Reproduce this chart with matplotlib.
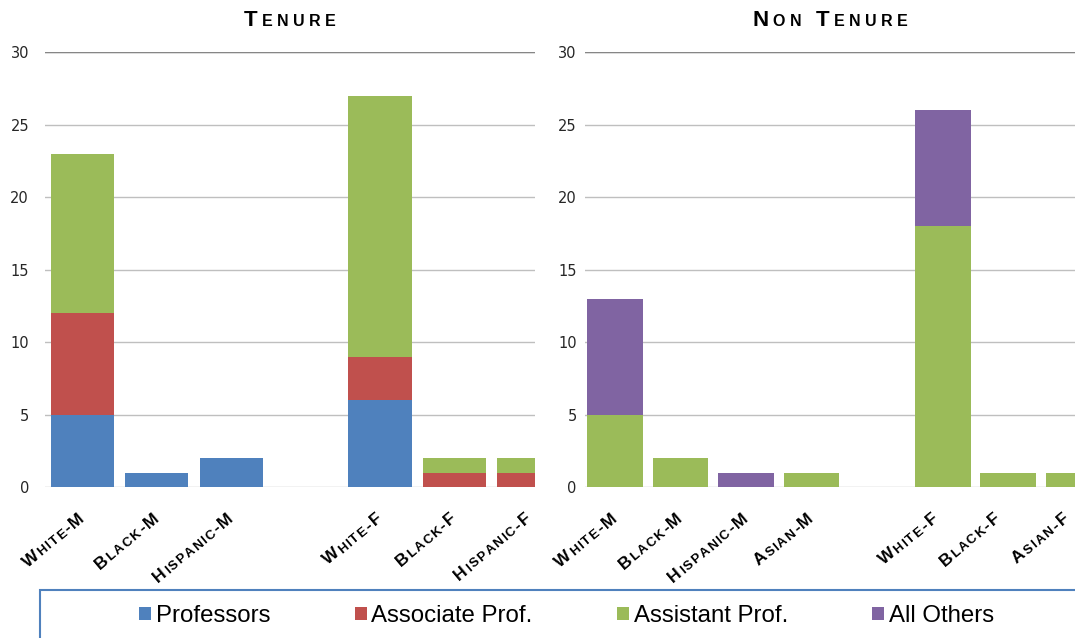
import numpy as np
import matplotlib
matplotlib.use('Agg')
import matplotlib.pyplot as plt
from matplotlib.patches import Patch, Rectangle
from matplotlib.font_manager import FontProperties
from matplotlib.textpath import text_to_path
from matplotlib.transforms import ScaledTranslation

# data
tenure_cats = ['White-M', 'Black-M', 'Hispanic-M', '', 'White-F', 'Black-F', 'Hispanic-F']
tenure_prof = [5, 1, 2, 0, 6, 0, 0]
tenure_assoc = [7, 0, 0, 0, 3, 1, 1]
tenure_asst = [11, 0, 0, 0, 18, 1, 1]
tenure_other = [0, 0, 0, 0, 0, 0, 0]

non_cats = ['White-M', 'Black-M', 'Hispanic-M', 'Asian-M', '', 'White-F', 'Black-F', 'Asian-F']
non_prof = [0, 0, 0, 0, 0, 0, 0, 0]
non_assoc = [0, 0, 0, 0, 0, 0, 0, 0]
non_asst = [5, 2, 0, 1, 0, 18, 1, 1]
non_other = [8, 0, 1, 0, 0, 8, 0, 0]

series_names = ['Professors', 'Associate Prof.', 'Assistant Prof.', 'All Others']
colors = ['#4F81BD', '#C0504D', '#9BBB59', '#8064A2']
yticks = [0, 5, 10, 15, 20, 25, 30]

# small horizontal nudges (points) of the category labels
tenure_nudge = [0, 0, 0, 0, 0, 0, 0]
non_nudge = [0, 0, 0, 0, 0, -5, -7, -5]

FONT = 'Liberation Sans'

fig = plt.figure(figsize=(10.75, 6.38), dpi=100)


def smallcaps(ax, x, y, s, transform, big, small, angle=0, align='center',
              track=0.0, offset=(0, 0)):
    # fake small caps: capitals at full size, lowercase as smaller capitals
    pb = FontProperties(family=FONT, weight='bold', size=big)
    ps = FontProperties(family=FONT, weight='bold', size=small)
    chars = []
    for ch in s:
        p = ps if ch.islower() else pb
        w, _, _ = text_to_path.get_text_width_height_descent(ch.upper(), p, ismath=False)
        chars.append((ch.upper(), p, w))
    total = sum(c[2] for c in chars) + track * (len(chars) - 1)
    pos = {'right': -total, 'center': -total / 2, 'left': 0}[align]
    c, sn = np.cos(np.radians(angle)), np.sin(np.radians(angle))
    for ch, p, w in chars:
        dx = offset[0] + pos * c
        dy = offset[1] + pos * sn
        tr = transform + ScaledTranslation(dx / 72, dy / 72, fig.dpi_scale_trans)
        ax.text(x, y, ch, transform=tr, fontproperties=p, rotation=angle,
                rotation_mode='anchor', ha='left', va='baseline', clip_on=False)
        pos += w + track


def panel(rect, cats, data, xlim, title, pad, nudge):
    ax = fig.add_axes(rect)
    x = np.arange(len(cats))
    bottom = np.zeros(len(cats))
    for vals, col in zip(data, colors):
        vals = np.array(vals, dtype=float)
        ax.bar(x, vals, width=0.85, bottom=bottom, color=col, zorder=3)
        bottom += vals
    ax.set_xlim(*xlim)
    ax.set_ylim(0, 30)
    ax.set_yticks(yticks)
    ax.yaxis.grid(True, color='#BFBFBF', lw=1, zorder=0)
    ax.axhline(30, color='#868686', lw=1, zorder=1)
    ax.set_axisbelow(True)
    for sp in ax.spines.values():
        sp.set_visible(False)
    ax.tick_params(length=0, labelsize=10.5, labelcolor='#262626', pad=pad)
    ax.set_xticks([])
    for xi, lab, nd in zip(x, cats, nudge):
        if lab:
            smallcaps(ax, xi, 0, lab, ax.get_xaxis_transform(), 12.5, 9.5,
                      angle=40, align='right', track=1.0, offset=(2 + nd, -23.5))
    smallcaps(ax, 0.5, 1.0, title, ax.transAxes, 16, 11.5, align='center',
              track=3.2, offset=(0, 19))
    return ax


panel([45 / 1075, 1 - 487 / 638, 490 / 1075, 435 / 638], tenure_cats,
      [tenure_prof, tenure_assoc, tenure_asst, tenure_other],
      (-0.5, 6.08), 'Tenure', 11.5, tenure_nudge)
panel([585 / 1075, 1 - 487 / 638, 490 / 1075, 435 / 638], non_cats,
      [non_prof, non_assoc, non_asst, non_other],
      (-0.46, 7.02), 'Non Tenure', 6, non_nudge)

# legend box
fig.patches.append(Rectangle((40 / 1075, -0.2), 1.2, 0.2 + 48 / 638,
                             transform=fig.transFigure, fill=False,
                             edgecolor='#4F81BD', lw=1.5))
handles = [Patch(facecolor=c, edgecolor='none') for c in colors]
fig.legend(handles, series_names, ncol=4, loc='center',
           bbox_to_anchor=(0.527, 1 - 616 / 638), frameon=False,
           prop=FontProperties(family=FONT, size=17.3),
           handlelength=0.5, handleheight=0.5, handletextpad=0.2,
           columnspacing=3.5)

fig.savefig('out.png', dpi=100)
